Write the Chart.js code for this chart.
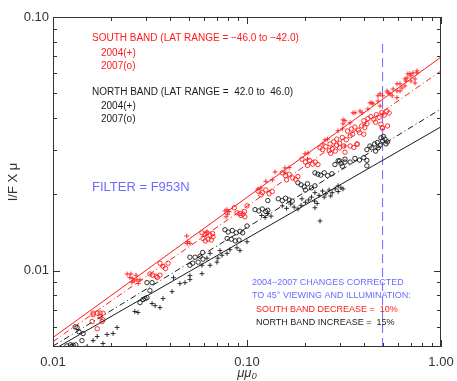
<!DOCTYPE html>
<html>
<head>
<meta charset="utf-8">
<script src="https://cdn.jsdelivr.net/npm/chart.js@4.4.1/dist/chart.umd.min.js"></script>
<style>
  html, body { margin: 0; padding: 0; background: #fff; }
  canvas { display: block; }
</style>
</head>
<body>
<canvas id="chart" width="457" height="381"></canvas>
<script>
// mu*mu0 vs I/F x mu. [x, y] pairs
// south band, 2004 (+)
const south2004 = [
  [0.0241,0.0097],[0.0252,0.0097],[0.0268,0.0096],[0.0249,0.0094],[0.0258,0.0093],[0.0271,0.0092],[0.0262,0.0091],[0.0281,0.0092],[0.0275,0.0089],[0.0255,0.0090],
  [0.0491,0.0128],[0.0495,0.0130],[0.0508,0.0128],[0.0489,0.0137],[0.0622,0.0142],
  [0.0770,0.0172],[0.0789,0.0174],[0.0808,0.0171],[0.0780,0.0163],[0.0795,0.0167],
  [0.114,0.0210],[0.118,0.0212],[0.125,0.0225],[0.135,0.0228],[0.1395,0.0245],[0.157,0.0254],[0.157,0.0243],[0.165,0.0255],
  [0.199,0.0289],[0.206,0.0291],[0.205,0.0275],[0.2465,0.0316],[0.2524,0.0328],[0.26,0.033],[0.2945,0.0356],[0.31,0.0362],[0.3125,0.0379],
  [0.3125,0.0393],[0.32,0.031],[0.32,0.039],[0.34,0.0383],[0.352,0.0419],[0.3605,0.0419],[0.3824,0.0426],[0.392,0.0419],[0.42,0.0434],
  [0.4305,0.0459],[0.44,0.0459],[0.4461,0.0455],[0.4735,0.0489],[0.4735,0.0466],[0.4849,0.0498],[0.485,0.0446],[0.50,0.0489],[0.5023,0.0415],
  [0.527,0.0511],[0.533,0.0503],[0.546,0.0498],[0.56,0.0489],[0.566,0.052],[0.5932,0.0545],[0.5932,0.0511],[0.593,0.0481],[0.615,0.0545],
  [0.615,0.0511],[0.6295,0.0525],[0.652,0.0535],[0.6521,0.057],[0.66,0.0559],[0.6678,0.0575],[0.675,0.0597],[0.6923,0.0597],[0.70,0.0586],
  [0.70,0.0559],[0.7174,0.0602],[0.735,0.0549],[0.7345,0.057],[0.752,0.0602],[0.7521,0.0613]
];
// south band, 2007 (o)
const south2007 = [
  [0.0161,0.0068],[0.0169,0.0068],[0.0175,0.0068],[0.0181,0.0068],[0.0161,0.0067],[0.0175,0.0066],[0.0159,0.0063],[0.0179,0.0063],[0.0181,0.0064],[0.0169,0.0059],
  [0.0316,0.0097],[0.0326,0.0096],[0.0340,0.0095],[0.0356,0.0096],[0.0345,0.0094],[0.0356,0.0107],[0.0369,0.0104],[0.0392,0.0107],[0.0380,0.0102],
  [0.0586,0.0141],[0.0607,0.0139],[0.0622,0.0141],[0.0645,0.0138],[0.0668,0.0136],[0.0593,0.0134],[0.0630,0.0133],[0.0655,0.0132],[0.0610,0.0131],[0.0665,0.0140],
  [0.0860,0.0177],[0.0888,0.0169],[0.0920,0.0168],[0.0954,0.0167],[0.0930,0.0165],[0.0975,0.0163],[0.1000,0.0180],[0.0970,0.0171],
  [0.114,0.0206],[0.120,0.0203],[0.125,0.0208],[0.130,0.0201],[0.135,0.0205],[0.118,0.0199],
  [0.152,0.0243],[0.158,0.0237],[0.165,0.0240],[0.172,0.0232],[0.178,0.0229],[0.183,0.0235],[0.160,0.0228],
  [0.192,0.0275],[0.200,0.0268],[0.210,0.0272],[0.218,0.0263],[0.225,0.0268],[0.232,0.0262],[0.205,0.0260],
  [0.238,0.0305],[0.245,0.0300],[0.255,0.0308],[0.265,0.0297],[0.275,0.0302],[0.285,0.0296],[0.270,0.0290],
  [0.268,0.0316],[0.280,0.0322],[0.290,0.0330],[0.300,0.0318],[0.310,0.0335],[0.325,0.0328],[0.340,0.0340],[0.290,0.0312],[0.315,0.0310],
  [0.300,0.0305],[0.320,0.0293],[0.340,0.0310],[0.355,0.0306],[0.370,0.0315],
  [0.330,0.0355],[0.345,0.0362],[0.360,0.0368],[0.375,0.0358],[0.390,0.0372],[0.405,0.0366],[0.415,0.0380],[0.350,0.0345],[0.380,0.0350],[0.400,0.0345],[0.369,0.0316],
  [0.400,0.0390],[0.420,0.0398],[0.435,0.0405],[0.450,0.0395],[0.465,0.0412],[0.480,0.0402],[0.495,0.0420],[0.510,0.0410],[0.525,0.0425],[0.540,0.0418],
  [0.460,0.0385],[0.490,0.0378],[0.500,0.0365],[0.530,0.0372],[0.497,0.0366]
];
// north band, 2004 (+)
const north2004 = [
  [0.0150,0.00503],[0.0161,0.0053],[0.0169,0.0055],[0.0181,0.00516],[0.0190,0.0056],[0.0204,0.00565],[0.0214,0.00597],[0.0264,0.0069],[0.0274,0.00684],
  [0.0324,0.00742],[0.0336,0.00728],[0.0356,0.00715],[0.0369,0.00776],[0.0411,0.00827],[0.0418,0.00938],[0.0451,0.00889],[0.0479,0.00897],[0.0508,0.00922],
  [0.0508,0.00956],[0.0586,0.00973],[0.0586,0.0105],[0.0622,0.0112],[0.0645,0.0105],[0.0645,0.0117],[0.0700,0.0108],[0.0708,0.0112],[0.0726,0.0120],
  [0.0743,0.0115],[0.0789,0.0117],[0.0817,0.0121],[0.0888,0.0123],[0.0920,0.0120],[0.1000,0.0130],
  [0.119,0.0165],[0.124,0.0162],[0.128,0.0168],[0.133,0.0164],[0.152,0.0180],[0.160,0.0176],[0.168,0.0183],[0.175,0.0178],[0.183,0.0175],[0.190,0.0181],
  [0.192,0.0192],[0.200,0.0186],[0.208,0.0190],[0.215,0.0195],[0.223,0.0188],[0.230,0.0184],[0.224,0.0203],[0.235,0.0198],[0.245,0.0206],[0.255,0.0201],
  [0.265,0.0208],[0.275,0.0203],[0.285,0.0210],[0.295,0.0205],[0.305,0.0212],[0.250,0.0195],[0.270,0.0197],[0.224,0.0177],[0.238,0.0157],[0.295,0.0216],[0.3125,0.0210]
];
// north band, 2007 (o)
const north2007 = [
  [0.0118,0.00505],[0.0123,0.0051],[0.0127,0.00508],[0.0131,0.0051],[0.0125,0.00503],[0.0130,0.0060],[0.0133,0.00597],[0.0136,0.00575],[0.0143,0.00565],[0.0141,0.0053],
  [0.0281,0.00748],[0.0291,0.00769],[0.0298,0.00776],[0.0305,0.00783],[0.0316,0.00834],[0.0305,0.00897],[0.0324,0.00897],
  [0.0508,0.0113],[0.0540,0.0113],[0.0573,0.0114],[0.0593,0.0111],[0.0508,0.0105],[0.0525,0.0107],[0.0560,0.0108],[0.0590,0.0118],
  [0.077,0.0145],[0.080,0.0142],[0.084,0.0144],[0.088,0.0141],[0.092,0.0143],[0.095,0.0141],[0.079,0.0134],[0.083,0.0133],[0.087,0.0131],[0.091,0.0132],[0.100,0.0150],
  [0.110,0.0174],[0.115,0.0172],[0.120,0.0175],[0.125,0.0171],[0.128,0.0173],[0.128,0.0189],
  [0.145,0.0192],[0.152,0.0189],[0.158,0.0193],[0.165,0.0190],[0.171,0.0188],
  [0.183,0.0222],[0.190,0.0218],[0.197,0.0214],[0.205,0.0220],[0.215,0.0212],[0.224,0.0216],[0.200,0.0208],
  [0.224,0.0243],[0.232,0.0240],[0.240,0.0238],[0.250,0.0243],[0.260,0.0237],[0.274,0.0241],
  [0.284,0.0262],[0.295,0.0271],[0.305,0.0265],[0.320,0.0268],[0.310,0.0258],
  [0.300,0.0271],[0.320,0.0275],[0.340,0.0268],[0.360,0.0277],[0.380,0.0273],[0.400,0.0279],[0.415,0.0272],[0.415,0.0259],
  [0.415,0.0300],[0.430,0.0310],[0.440,0.0305],[0.455,0.0316],[0.470,0.0320],[0.485,0.0312],[0.500,0.0325],[0.515,0.0330],[0.530,0.0322],
  [0.460,0.0296],[0.490,0.0334],[0.505,0.0338],[0.520,0.0316],[0.475,0.0305]
];

// power-law fits, end points at mu*mu0 = 0.01 and 1
const southFit2004 = [[0.01, 0.00545], [1, 0.0695]];
const southFit2007 = [[0.01, 0.00525], [1, 0.0613]];
const northFit2004 = [[0.01, 0.00487], [1, 0.0369]];
const northFit2007 = [[0.01, 0.00504], [1, 0.0434]];
// 45 degree viewing and illumination
const refLine = [[0.5, 0.005], [0.5, 0.08]];

const xTickValues = [0.01, 0.1, 1];
const xTickLabels = ['0.01', '0.10', '1.00'];
const xMinorValues = [0.02, 0.03, 0.04, 0.05, 0.06, 0.07, 0.08, 0.09, 0.2, 0.3, 0.4, 0.5, 0.6, 0.7, 0.8, 0.9];
const yTickValues = [0.01, 0.1];
const yTickLabels = ['0.01', '0.10'];
const yMinorValues = [0.006, 0.007, 0.008, 0.009, 0.02, 0.03, 0.04, 0.05, 0.06, 0.07, 0.08, 0.09];

const RED = '#ff1a1a';
const BLUE = '#6b6bff';
const INK = '#1a1a1a';
const FONT = '"Liberation Sans", Arial, sans-serif';

const toXY = (pts) => pts.map(([x, y]) => ({ x, y }));

const marks = (data, color, style) => ({
  type: 'scatter',
  data: toXY(data),
  pointStyle: style,
  pointRadius: style === 'cross' ? 2.4 : 2.2,
  borderColor: color,
  backgroundColor: 'rgba(0,0,0,0)',
  borderWidth: 0.9,
});

const fit = (data, color, dash) => ({
  type: 'line',
  data: toXY(data),
  borderColor: color,
  borderWidth: 1,
  borderDash: dash,
  pointRadius: 0,
  showLine: true,
});

// box with inward ticks on all four sides, like the IDL plot
const frameTicks = {
  id: 'frameTicks',
  afterDraw(chart) {
    const { ctx, chartArea: a, scales } = chart;
    ctx.save();
    ctx.strokeStyle = '#333';
    ctx.lineWidth = 1;
    ctx.strokeRect(a.left + 0.5, a.top + 0.5, a.right - a.left - 1, a.bottom - a.top - 1);
    ctx.beginPath();
    const xt = (v, len) => {
      const px = Math.round(scales.x.getPixelForValue(v)) + 0.5;
      ctx.moveTo(px, a.bottom); ctx.lineTo(px, a.bottom - len);
      ctx.moveTo(px, a.top); ctx.lineTo(px, a.top + len);
    };
    const yt = (v, len) => {
      const py = Math.round(scales.y.getPixelForValue(v)) + 0.5;
      ctx.moveTo(a.left, py); ctx.lineTo(a.left + len, py);
      ctx.moveTo(a.right, py); ctx.lineTo(a.right - len, py);
    };
    xTickValues.forEach(v => xt(v, 7));
    xMinorValues.forEach(v => xt(v, 4));
    yTickValues.forEach(v => yt(v, 7));
    yMinorValues.forEach(v => yt(v, 4));
    ctx.stroke();
    ctx.restore();
  }
};

const notes = {
  id: 'notes',
  afterDraw(chart) {
    const { ctx } = chart;
    const put = (text, x, y, color, size) => {
      ctx.fillStyle = color;
      ctx.font = size + 'px ' + FONT;
      ctx.fillText(text, x, y);
    };
    ctx.save();
    ctx.textAlign = 'left';
    ctx.textBaseline = 'middle';
    put('SOUTH BAND (LAT RANGE = \u221246.0 to \u221242.0)', 92, 38, RED, 10);
    put('2004(+)', 101, 53, RED, 10);
    put('2007(o)', 101, 66, RED, 10);
    put('NORTH BAND (LAT RANGE =  42.0 to  46.0)', 92, 92, INK, 10);
    put('2004(+)', 101, 106, INK, 10);
    put('2007(o)', 101, 119, INK, 10);
    put('FILTER = F953N', 92, 187, BLUE, 13);
    put('2004\u22122007 CHANGES CORRECTED', 252, 283, BLUE, 9);
    put('TO 45\u00b0 VIEWING AND ILLUMINATION:', 252, 296, BLUE, 9);
    put('SOUTH BAND DECREASE =  10%', 256, 310, RED, 9);
    put('NORTH BAND INCREASE =  15%', 256, 323, INK, 9);
    ctx.restore();
  }
};

const ctx = document.getElementById('chart').getContext('2d');

new Chart(ctx, {
  type: 'scatter',
  data: {
    datasets: [
      fit(southFit2004, RED, []),
      fit(southFit2007, RED, [6, 3, 1, 3]),
      fit(northFit2004, INK, []),
      fit(northFit2007, INK, [6, 3, 1, 3]),
      marks(south2004, RED, 'cross'),
      marks(south2007, RED, 'circle'),
      marks(north2004, INK, 'cross'),
      marks(north2007, INK, 'circle'),
      fit(refLine, BLUE, [9, 5]),
    ],
  },
  options: {
    responsive: false,
    animation: false,
    layout: { padding: { top: 17, right: 16, left: 0, bottom: 0 } },
    plugins: {
      legend: { display: false },
      tooltip: { enabled: false },
    },
    scales: {
      x: {
        type: 'logarithmic',
        min: 0.01,
        max: 1,
        grid: { display: false, drawTicks: false },
        border: { display: false },
        afterBuildTicks: (scale) => { scale.ticks = xTickValues.map(v => ({ value: v })); },
        afterFit: (scale) => {
          scale.height = 34;
          scale.paddingLeft = 0;
          scale.paddingRight = 0;
        },
        ticks: {
          autoSkip: false,
          maxRotation: 0,
          padding: 8,
          color: '#333',
          font: { family: FONT, size: 13 },
          callback: (v, i) => xTickLabels[i],
        },
        title: {
          display: true,
          text: '\u03bc\u03bc\u2080',
          color: '#333',
          font: { family: FONT, size: 13, style: 'italic' },
          padding: { top: 0, bottom: 0 },
        },
      },
      y: {
        type: 'logarithmic',
        min: 0.005,
        max: 0.1,
        grid: { display: false, drawTicks: false },
        border: { display: false },
        afterBuildTicks: (scale) => { scale.ticks = yTickValues.map(v => ({ value: v })); },
        afterFit: (scale) => {
          scale.width = 53;
          scale.paddingTop = 0;
          scale.paddingBottom = 0;
        },
        ticks: {
          autoSkip: false,
          padding: 4,
          color: '#333',
          font: { family: FONT, size: 13 },
          callback: (v, i) => yTickLabels[i],
        },
        title: {
          display: true,
          text: 'I/F X \u03bc',
          color: '#333',
          font: { family: FONT, size: 13 },
          padding: { top: 6, bottom: 0 },
        },
      },
    },
  },
  plugins: [frameTicks, notes],
});
</script>
</body>
</html>
